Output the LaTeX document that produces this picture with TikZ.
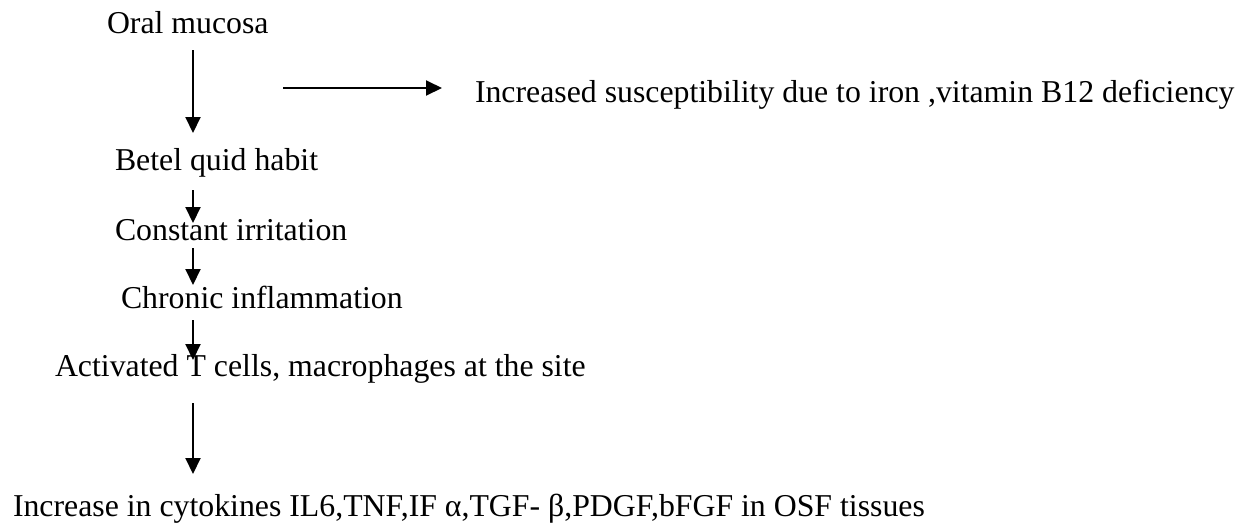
\documentclass[tikz,border=0pt]{standalone}
\usepackage{fontspec}
\setmainfont{Liberation Serif}
\usetikzlibrary{arrows.meta}
\tikzset{
  lbl/.style={anchor=base west, inner sep=0pt, outer sep=0pt,
    font=\fontsize{31.8}{38}\selectfont},
  flow/.style={line width=2pt, -{Triangle[length=16pt,width=15pt]}}
}
\begin{document}
\begin{tikzpicture}[x=1pt, y=-1pt]
  \useasboundingbox (0,0) rectangle (1250,523);
  % steps of the pathway
  \node[lbl] (om)  at (107,33)  {Oral mucosa};
  \node[lbl] (inc) at (475,102) {Increased susceptibility due to iron ,vitamin B12 deficiency};
  \node[lbl] (bq)  at (115,170) {Betel quid habit};
  \node[lbl] (ci)  at (115,240) {Constant irritation};
  \node[lbl] (ch)  at (121,308) {Chronic inflammation};
  \node[lbl] (at)  at (55,376)  {Activated T cells, macrophages at the site};
  \node[lbl] (cy)  at (13,516)  {Increase in cytokines IL6,TNF,IF α,TGF- β,PDGF,bFGF in OSF tissues};
  % arrow end points
  \coordinate (a1s) at (193,50);  \coordinate (a1e) at (193,133);
  \coordinate (h1s) at (283,88);  \coordinate (h1e) at (442,88);
  \coordinate (a2s) at (193,190); \coordinate (a2e) at (193,223);
  \coordinate (a3s) at (193,248); \coordinate (a3e) at (193,285);
  \coordinate (a4s) at (193,320); \coordinate (a4e) at (193,360);
  \coordinate (a5s) at (193,403); \coordinate (a5e) at (193,474);
  % connectors
  \draw[flow] (a1s) -- (a1e);
  \draw[flow] (h1s) -- (h1e);
  \draw[flow] (a2s) -- (a2e);
  \draw[flow] (a3s) -- (a3e);
  \draw[flow] (a4s) -- (a4e);
  \draw[flow] (a5s) -- (a5e);
\end{tikzpicture}
\end{document}
